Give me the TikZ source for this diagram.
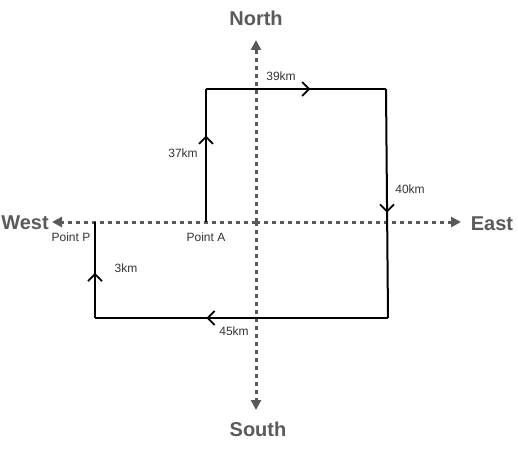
\documentclass[tikz,border=0pt]{standalone}
\usepackage{fontspec}
\setmainfont{Liberation Sans}
\usepackage{tikz}
\usetikzlibrary{arrows.meta,decorations.markings}
\usetikzlibrary{positioning}
\definecolor{axisgray}{HTML}{5A5A5A}
\tikzset{
    axis/.style={
           draw=axisgray,
           line width=3pt,
           dash pattern=on 4pt off 4pt,
           -{Triangle[length=10pt,width=10pt]},
           },
}
\tikzset{
    compass/.style={
           text=axisgray,
           font=\bfseries\fontsize{20}{22}\selectfont,
           inner sep=0pt,
           },
}
\tikzset{
    dist/.style={
           text=black!80,
           font=\fontsize{12}{14}\selectfont,
           inner sep=1pt,
           },
}
\tikzset{
    leg/.style={
           draw, line width=2pt,
           decoration={markings,
               mark=at position #1 with {\arrow{Straight Barb[length=7pt,width=14pt,line width=1.8pt]}}},
           postaction={decorate},
           },
}

\begin{document}
\begin{tikzpicture}[x=1pt,y=-1pt]
\useasboundingbox (0,0) rectangle (518,449);
% compass
\coordinate (O) at (256,222);
\coordinate (ntip) at (256,40);
\coordinate (stip) at (256,410);
\coordinate (wtip) at (52,222);
\coordinate (etip) at (461,222);
\draw[axis] (O) -- (ntip);
\draw[axis] (O) -- (stip);
\draw[axis] (O) -- (wtip);
\draw[axis] (O) -- (etip);
\node[compass](north) at (256,18){North};
\node[compass](south) at (258,429){South};
\node[compass](west) at (25,223){West};
\node[compass](east) at (492,224){East};
% route
\coordinate (A) at (206,222);
\coordinate (c1) at (206,89);
\coordinate (c2) at (386,89);
\coordinate (c3) at (388,318);
\coordinate (c4) at (95,318);
\coordinate (P) at (95,222);
\draw[leg=0.65] (A) -- (c1);
\draw[leg=0.58] (c1) -- (c2);
\draw[leg=0.54] (c2) -- (c3);
\draw[leg=0.62] (c3) -- (c4);
\draw[leg=0.47] (c4) -- (P);
% labels
\node[dist](pa) at (206,237){Point A};
\node[dist](pp) at (71,237){Point P};
\node[dist](d39) at (281,76){39km};
\node[dist](d37) at (183,153){37km};
\node[dist](d40) at (410,189){40km};
\node[dist](d45) at (234,331){45km};
\node[dist](d3) at (126,268){3km};
\end{tikzpicture}
\end{document}
